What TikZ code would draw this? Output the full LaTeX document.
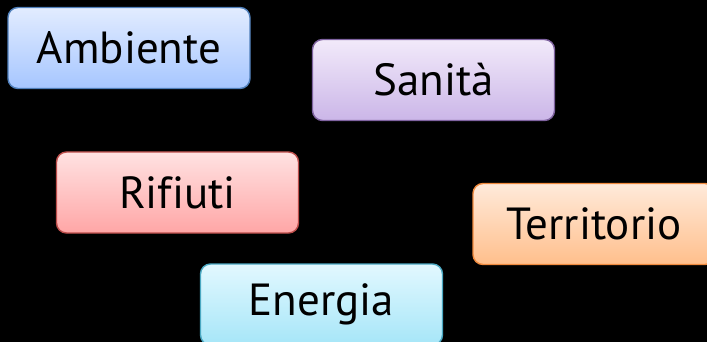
\documentclass[tikz,border=0pt]{standalone}
\usepackage{fontspec}
\setmainfont{PT Sans}[Ligatures=NoCommon]
\definecolor{ambTop}{HTML}{E2ECFF}
\definecolor{ambBot}{HTML}{A6C6FF}
\definecolor{ambLine}{HTML}{4F7FBA}
\definecolor{sanTop}{HTML}{F2EAFA}
\definecolor{sanBot}{HTML}{CBB6E8}
\definecolor{sanLine}{HTML}{7F63A0}
\definecolor{rifTop}{HTML}{FFE2E2}
\definecolor{rifBot}{HTML}{FFA6A6}
\definecolor{rifLine}{HTML}{BD4E4B}
\definecolor{terTop}{HTML}{FFEADA}
\definecolor{terBot}{HTML}{FFBF8C}
\definecolor{terLine}{HTML}{F08A3E}
\definecolor{eneTop}{HTML}{E2F8FF}
\definecolor{eneBot}{HTML}{A6E6F8}
\definecolor{eneLine}{HTML}{4AA8C2}
\tikzset{
  tema/.style={draw, line width=1.4pt, rounded corners=10pt, minimum width=242pt,
    minimum height=81pt, inner sep=0pt, font=\fontsize{45}{48}\selectfont, text=black},
  tema ambiente/.style={tema, draw=ambLine, top color=ambTop, bottom color=ambBot},
  tema sanita/.style={tema, draw=sanLine, top color=sanTop, bottom color=sanBot},
  tema rifiuti/.style={tema, draw=rifLine, top color=rifTop, bottom color=rifBot},
  tema territorio/.style={tema, draw=terLine, top color=terTop, bottom color=terBot},
  tema energia/.style={tema, draw=eneLine, top color=eneTop, bottom color=eneBot}
}
\begin{document}
\begin{tikzpicture}[x=1pt, y=-1pt]
			% sfondo
			\fill[black] (0, 0) rectangle (707, 342);
			\useasboundingbox (0, 0) rectangle (707, 342);
			
			\node[tema ambiente] (ambiente) at (129, 48) {Ambiente};
			\node[tema sanita] (sanita) at (433.5, 80) {Sanità};
			\node[tema rifiuti] (rifiuti) at (177.5, 192.5) {Rifiuti};
			\node[tema territorio] (territorio) at (594, 224) {Territorio};
			\node[tema energia] (energia) at (321.5, 304.5) {Energia};
			
		\end{tikzpicture}
\end{document}
